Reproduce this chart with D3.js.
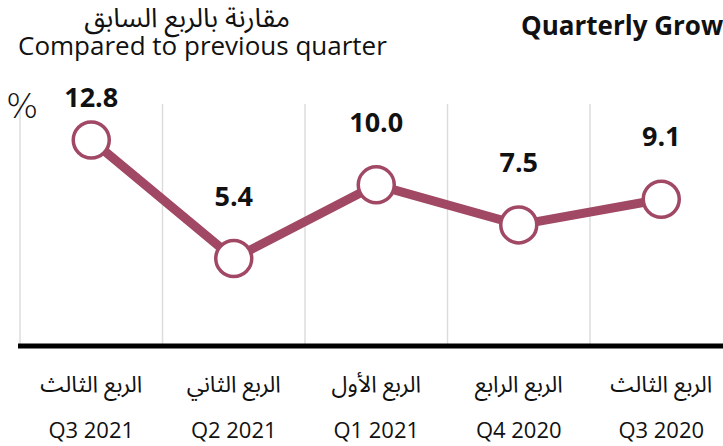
<!DOCTYPE html>
<html><head><meta charset="utf-8">
<script src="https://cdn.jsdelivr.net/npm/d3@7"></script>
<style>
body{margin:0;background:#fff;}
svg{display:block;}
</style></head>
<body>
<svg id="c" width="723" height="446"></svg>
<script>
const quartersEn = ["Q3 2021","Q2 2021","Q1 2021","Q4 2020","Q3 2020"];
const quartersAr = ["الربع الثالث","الربع الثاني","الربع الأول","الربع الرابع","الربع الثالث"];
const growth = [12.8, 5.4, 10.0, 7.5, 9.1];
const titleAr = "مقارنة بالربع السابق";
const titleEn = "Compared to previous quarter";
const mainTitle = "Quarterly Growth";

const svg = d3.select("#c");
const color = "#a04864";
const fontLat = "'Open Sans', 'Noto Sans', sans-serif";
const fontAr = "'Noto Sans Arabic','DejaVu Sans', sans-serif";

const x = d3.scaleBand().domain(quartersEn).range([20, 20 + 142.5*5]).padding(0);
const y = d3.scaleLinear().domain([0, 12.8]).range([345, 140]);

// gridlines at band edges
const edges = quartersEn.map(q => x(q));
svg.append("g").selectAll("line").data(edges).join("line")
  .attr("x1", d => d).attr("x2", d => d)
  .attr("y1", 104).attr("y2", 345)
  .attr("stroke", "#dcdcdc").attr("stroke-width", 1.5);

// baseline axis
const xAxis = d3.axisBottom(x).tickSize(0).tickFormat("");
const ax = svg.append("g").attr("transform", "translate(0,346)").call(xAxis);
ax.select(".domain").attr("stroke", "#000").attr("stroke-width", 5).attr("d", "M18,0H723");

// x labels
const lab = svg.append("g");
lab.selectAll("text.ar").data(quartersAr).join("text")
  .attr("class","ar")
  .attr("x", (d,i) => x(quartersEn[i]) + x.bandwidth()/2)
  .attr("y", 392)
  .attr("text-anchor","middle")
  .attr("font-family", fontAr).attr("font-size", 23).attr("fill","#111")
  .attr("direction","rtl")
  .text(d => d);
lab.selectAll("text.en").data(quartersEn).join("text")
  .attr("class","en")
  .attr("x", d => x(d) + x.bandwidth()/2)
  .attr("y", 438)
  .attr("text-anchor","middle")
  .attr("font-family", fontLat).attr("font-size", 22).attr("fill","#111")
  .text(d => d);

// line
const cx = (d,i) => x(quartersEn[i]) + x.bandwidth()/2;
const line = d3.line().x((d,i) => cx(d,i)).y(d => y(d));
svg.append("path").datum(growth).attr("d", line)
  .attr("fill","none").attr("stroke", color).attr("stroke-width", 9)
  .attr("stroke-linejoin","round");

svg.append("g").selectAll("circle").data(growth).join("circle")
  .attr("cx", cx).attr("cy", d => y(d)).attr("r", 18)
  .attr("fill","#fff").attr("stroke", color).attr("stroke-width", 3.5);

// value labels
svg.append("g").selectAll("text").data(growth).join("text")
  .attr("x", cx)
  .attr("y", d => Math.max(y(d) - 53, 107))
  .attr("text-anchor","middle")
  .attr("font-family", fontLat).attr("font-weight", 700).attr("font-size", 27)
  .attr("fill","#111")
  .text(d => d.toFixed(1));

// % unit
svg.append("text").attr("x", 6).attr("y", 118)
  .attr("font-family", "'DejaVu Sans', sans-serif").attr("font-weight", 300).attr("font-size", 34).attr("fill","#111").text("%");

// titles
svg.append("text").attr("x", 290).attr("y", 27).attr("text-anchor","start")
  .attr("direction","rtl")
  .attr("font-family", fontAr).attr("font-size", 27).attr("fill","#111").text(titleAr);
svg.append("text").attr("x", 18).attr("y", 55)
  .attr("font-family", fontLat).attr("font-size", 26).attr("fill","#111").text(titleEn);
svg.append("text").attr("x", 521).attr("y", 35)
  .attr("font-family", fontLat).attr("font-weight", 700).attr("font-size", 26).attr("fill","#111").text(mainTitle);
</script>
</body></html>
